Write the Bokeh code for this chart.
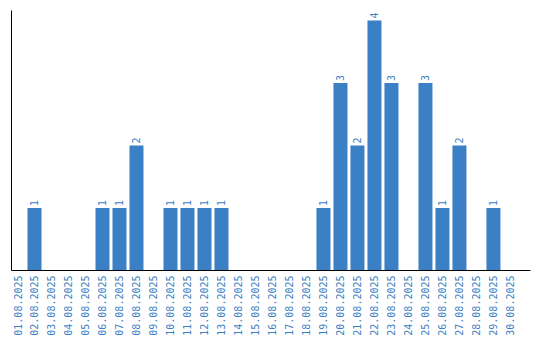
import math
from bokeh.plotting import figure
from bokeh.models import Range1d, FixedTicker, ColumnDataSource
from bokeh.core.properties import value
from bokeh.embed import file_html
from bokeh.resources import INLINE

dates = ["01.08.2025", "02.08.2025", "03.08.2025", "04.08.2025", "05.08.2025",
         "06.08.2025", "07.08.2025", "08.08.2025", "09.08.2025", "10.08.2025",
         "11.08.2025", "12.08.2025", "13.08.2025", "14.08.2025", "15.08.2025",
         "16.08.2025", "17.08.2025", "18.08.2025", "19.08.2025", "20.08.2025",
         "21.08.2025", "22.08.2025", "23.08.2025", "24.08.2025", "25.08.2025",
         "26.08.2025", "27.08.2025", "28.08.2025", "29.08.2025", "30.08.2025"]
counts = [0, 1, 0, 0, 0, 1, 1, 2, 0, 1,
          1, 1, 1, 0, 0, 0, 0, 0, 1, 3,
          2, 4, 3, 0, 3, 1, 2, 0, 1, 0]

BLUE = "#3b7fc4"
FONT = "DejaVu Sans Mono"

xs = list(range(1, len(dates) + 1))
src = ColumnDataSource(dict(x=xs, top=counts))
lab_idx = [i for i, c in enumerate(counts) if c > 0]
lsrc = ColumnDataSource(dict(x=[xs[i] for i in lab_idx], y=[counts[i] for i in lab_idx],
                             label=[str(counts[i]) for i in lab_idx]))

p = figure(width=540, height=340, output_backend="svg", toolbar_location=None,
           x_range=Range1d(0.647, 31.18), y_range=Range1d(0, 4.16),
           min_border_left=11, min_border_right=10, min_border_top=10, min_border_bottom=70)
p.vbar(x="x", top="top", width=14 / 17, source=src, fill_color=BLUE, line_color=None)
p.text(x="x", y="y", text="label", source=lsrc, angle=math.pi / 2, y_offset=-2,
       text_align="left", text_baseline="middle", text_color=BLUE,
       text_font=value(FONT), text_font_size="10px")

p.xgrid.visible = False
p.ygrid.visible = False
p.outline_line_color = None

xa = p.xaxis[0]
xa.ticker = FixedTicker(ticks=xs)
xa.major_label_overrides = {x: d for x, d in zip(xs, dates)}
xa.major_label_orientation = math.pi / 2
xa.major_label_text_font = FONT
xa.major_label_text_font_size = "10px"
xa.major_label_text_color = BLUE
xa.major_label_standoff = 5
xa.major_tick_line_color = None
xa.minor_tick_line_color = None
xa.major_tick_out = 0
xa.axis_line_color = "black"

ya = p.yaxis[0]
ya.ticker = FixedTicker(ticks=[])
ya.major_tick_line_color = None
ya.minor_tick_line_color = None
ya.major_label_standoff = 0
ya.major_tick_out = 0
ya.axis_line_color = "black"

open("out.html", "w").write(file_html(p, INLINE))
